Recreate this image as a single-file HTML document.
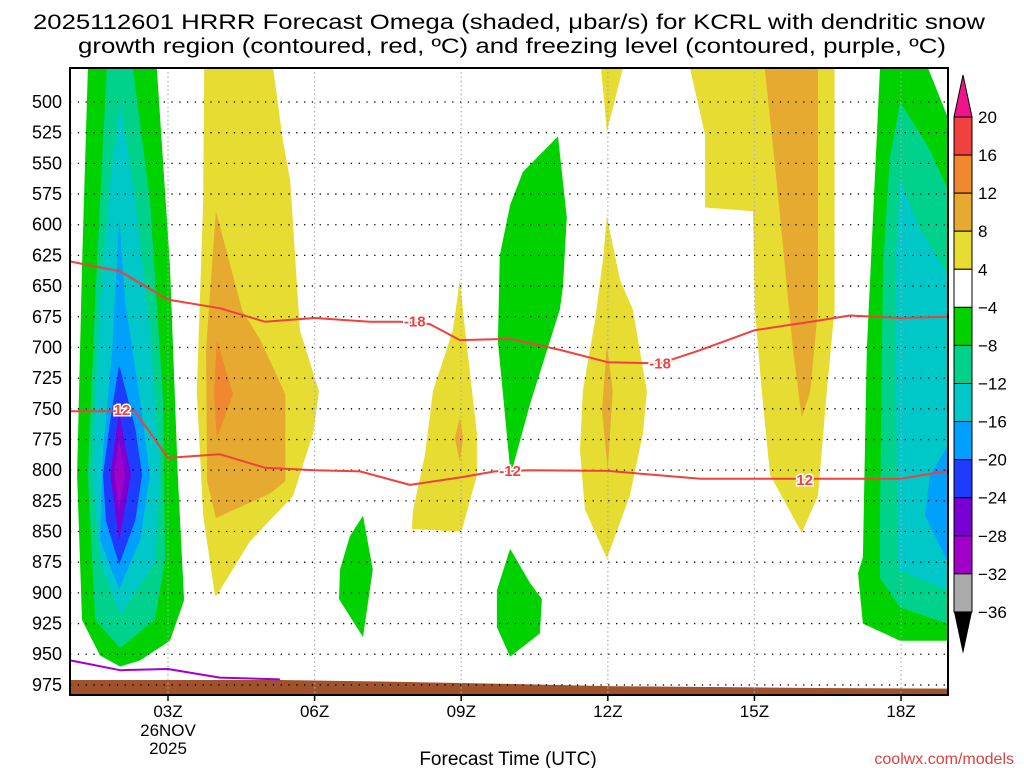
<!DOCTYPE html>
<html><head><meta charset="utf-8"><style>
html,body{margin:0;padding:0;background:#fff;}
svg{display:block;font-family:"Liberation Sans",sans-serif;}
</style></head><body>
<svg id="chart" width="1024" height="768" viewBox="0 0 1024 768" xmlns="http://www.w3.org/2000/svg">
<text x="33" y="29" font-size="21" textLength="952" lengthAdjust="spacingAndGlyphs">2025112601 HRRR Forecast Omega (shaded, μbar/s) for KCRL with dendritic snow</text>
<text x="78" y="53" font-size="21" textLength="868" lengthAdjust="spacingAndGlyphs">growth region (contoured, red, ºC) and freezing level (contoured, purple, ºC)</text>
<g id="plot"></g>
<text x="508" y="765" font-size="19" text-anchor="middle">Forecast Time (UTC)</text>
<text x="1014" y="764" font-size="16" fill="#e04040" text-anchor="end">coolwx.com/models</text>
</svg>
<script>
// ---- data ----
const pressureTicks = [500,525,550,575,600,625,650,675,700,725,750,775,800,825,850,875,900,925,950,975];
const hourTicks = [3,6,9,12,15,18];
const hourLabels = ["03Z","06Z","09Z","12Z","15Z","18Z"];
const colorLevels = [20,16,12,8,4,-4,-8,-12,-16,-20,-24,-28,-32,-36];
const colorFills = ["#f04040","#f08830","#e6aa30","#e6dc32","#ffffff","#00d200","#00d28c","#00c8c8","#00a0ff","#1e3cff","#7800d2","#a000c8","#aaaaaa"];
// shaded omega regions: [[hourUTC, hPa],...]
const shadeGreen = [
 [[1.36,472],[2.77,472],[3.04,634],[3.2,804],[3.33,906],[3.04,939],[2.43,955],[2.02,960],[1.61,951],[1.24,922],[1.14,804],[1.24,634]],
 [[6.99,837],[7.19,881],[6.99,936],[6.5,905],[6.52,881],[6.72,854]],
 [[10.98,528],[11.16,594],[11.08,651],[11.02,669],[10.41,746],[10.06,797],[10.0,799],[9.75,695],[9.79,625],[10.0,584],[10.26,557]],
 [[10.0,864],[10.41,892],[10.65,905],[10.61,933],[10.0,952],[9.73,928],[9.73,898]],
 [[17.57,472],[18.55,472],[18.96,513],[18.96,939],[17.98,939],[17.22,925],[17.12,884],[17.22,871],[17.3,702]]
];
const shadeTeal = [
 [[1.75,472],[2.28,472],[2.63,580],[2.9,743],[2.94,873],[2.73,922],[2.02,945],[1.51,922],[1.36,804],[1.51,661]],
 [[17.98,500],[18.59,539],[18.96,572],[18.96,925],[17.98,912],[17.57,888],[17.57,837],[17.63,634],[17.77,547]]
];
const shadeCyan = [
 [[2.02,499],[2.33,580],[2.63,686],[2.84,801],[2.74,875],[2.02,918],[1.61,875],[1.45,801],[1.61,662],[1.82,564]],
 [[17.98,563],[18.39,604],[18.96,641],[18.96,898],[17.94,881],[17.92,837],[17.88,634]]
];
const shadeLightBlue = [
 [[2.0,595],[2.12,662],[2.43,743],[2.63,804],[2.43,857],[2.0,897],[1.61,857],[1.67,784],[1.86,702]],
 [[18.96,780],[18.59,804],[18.49,837],[18.96,875]]
];
const shadeBlue = [[[2.0,714],[2.33,766],[2.47,804],[2.33,841],[2.0,877],[1.73,841],[1.67,804],[1.82,759]]];
const shadeViolet = [[[2.0,753],[2.24,804],[2.0,858],[1.82,804]]];
const shadePurple = [[[2.0,775],[2.12,804],[2.0,832],[1.9,804]]];
const shadeYellow = [
 [[3.74,472],[5.15,472],[5.35,531],[5.5,564],[5.7,686],[6.09,736],[5.97,770],[5.56,821],[4.68,858],[4.0,902],[3.96,902],[3.72,837],[3.59,736],[3.72,581]],
 [[8.97,645],[9.08,686],[9.32,770],[9.32,804],[9.02,848],[8.97,850],[7.99,848],[8.01,834],[8.26,787],[8.42,736],[8.83,686]],
 [[11.86,472],[12.31,472],[11.98,524]],
 [[11.98,593],[12.25,645],[12.51,669],[12.8,736],[12.72,770],[12.45,821],[11.98,872],[11.53,832],[11.43,784],[11.49,735],[11.74,678],[11.9,629]],
 [[13.68,472],[13.99,527],[13.99,586],[14.97,589],[15.01,669],[15.15,736],[15.32,804],[15.97,851],[16.3,821],[16.48,736],[16.64,669],[16.64,472]]
];
const shadeOrangeLight = [
 [[3.98,589],[4.52,670],[4.89,694],[5.4,738],[5.4,809],[5.09,819],[3.98,839],[3.8,809],[3.78,701]],
 [[8.97,757],[9.04,774],[8.97,793],[8.87,774]],
 [[11.98,698],[12.1,735],[12.0,800],[11.88,751]],
 [[15.21,472],[16.3,472],[16.3,669],[16.14,736],[15.97,757],[15.79,702],[15.46,567]]
];
const shadeOrange = [[[4.0,694],[4.33,738],[4.0,774],[3.94,738]]];
const shapeLayers = [
 ["green-region", "#00d200", shadeGreen],
 ["seagreen-region", "#00d28c", shadeTeal],
 ["cyan-region", "#00c8c8", shadeCyan],
 ["lightblue-region", "#00a0ff", shadeLightBlue],
 ["blue-region", "#1e3cff", shadeBlue],
 ["violet-region", "#7800d2", shadeViolet],
 ["purple-region", "#a000c8", shadePurple],
 ["yellow-region", "#e6dc32", shadeYellow],
 ["amber-region", "#e6aa30", shadeOrangeLight],
 ["orange-region", "#f08830", shadeOrange]
];
const iso18 = [[1,630],[2.02,638],[3,661],[4.06,668],[4.98,679],[6,676],[7.13,679],[7.75,679],[8.36,681],[8.97,694],[10,693],[11.02,702],[12,712],[13.07,713],[13.9,702],[15,686],[16.34,678],[16.95,674],[17.98,676],[18.96,675]];
const iso12 = [[1,752],[2.32,752],[3,790],[4.06,787],[4.98,798],[6,800],[6.93,801],[7.95,812],[8.97,806],[9.69,801],[10.4,800],[12,800.6],[13.9,807],[15,807],[16.55,807],[17.98,807],[18.96,800.6]];
const isoLabels = [["-18",8.05,679],["-18",13.07,713],["12",2.06,751],["-12",10.0,800.6],["12",16.03,808]];
const freezing = [[1,955],[2.02,963],[3,962],[4.06,969],[5.29,970.5]];
const terrain = [[1,971],[5.29,971],[7,972],[9.79,974],[12,976],[15,977],[16.3,977.5],[18.96,978]];
// ---- axes ----
const X0=168, HPX=48.87, Y0=102, PPX=30.68/25;
const xS = h => X0+(h-3)*HPX;
const yS = p => Y0+(p-500)*PPX;
const L=70,R=948,T=68,B=695;
const NS="http://www.w3.org/2000/svg";
const svg=document.getElementById('chart');
const plot=document.getElementById('plot');
function mk(tag,attrs,parent){const e=document.createElementNS(NS,tag);for(const k in attrs)e.setAttribute(k,attrs[k]);(parent||plot).appendChild(e);return e;}
const pts = arr => arr.map(d=>xS(d[0]).toFixed(1)+","+yS(d[1]).toFixed(1)).join(" ");
const defs=mk('defs',{},svg);
const cp=mk('clipPath',{id:'clipP'},defs);
mk('rect',{x:L,y:T,width:R-L,height:B-T},cp);
const g=mk('g',{'clip-path':'url(#clipP)'});
for(const [nm,fill,polys] of shapeLayers){
  for(const poly of polys){
    const p=mk('polygon',{points:pts(poly),fill:fill},g);
    
    
  }
}
const terr=mk('polygon',{points:pts(terrain)+" "+xS(18.96)+","+B+" "+xS(1)+","+B,fill:"#a0522d"},g);


for(const p of pressureTicks){
  const l=mk('line',{x1:L,x2:R,y1:yS(p),y2:yS(p),stroke:"#000","stroke-width":1.3,"stroke-dasharray":"1.3,6.5"},g);
  
  
}
for(const h of hourTicks){
  const l=mk('line',{x1:xS(h),x2:xS(h),y1:T,y2:B,stroke:"#aaa","stroke-width":1.3,"stroke-dasharray":"1.3,3"},g);
  
  
}
function line(arr,color,name,w){
  const l=mk('polyline',{points:pts(arr),fill:"none",stroke:color,"stroke-width":w||2,"stroke-linejoin":"round"},g);
  
  
}
line(iso18,"#f04040","dgz-contour-minus18");
line(iso12,"#f04040","dgz-contour-minus12");
line(freezing,"#a000d0","freezing-level-contour");
for(const [t,h,p] of isoLabels){
  const tx=mk('text',{x:xS(h),y:yS(p)+5,"font-size":15,"font-weight":"bold",fill:"#f04040","text-anchor":"middle",stroke:"#fff","stroke-width":3,"paint-order":"stroke"},g);
  tx.textContent=t;
  
  
}
const fr=mk('rect',{x:L,y:T,width:R-L,height:B-T,fill:"none",stroke:"#000","stroke-width":2});


for(const p of pressureTicks){
  const t=mk('text',{x:62,y:yS(p)+6,"font-size":18,"text-anchor":"end"});
  t.textContent=p;
  
  
}
hourTicks.forEach((h,i)=>{
  mk('line',{x1:xS(h),x2:xS(h),y1:B,y2:B+6,stroke:"#000","stroke-width":1.5});
  const t=mk('text',{x:xS(h),y:B+22,"font-size":17,"text-anchor":"middle"});
  t.textContent=hourLabels[i];
  
  
});
const d1=mk('text',{x:xS(3),y:B+41,"font-size":17,"text-anchor":"middle"});d1.textContent="26NOV";


const d2=mk('text',{x:xS(3),y:B+59,"font-size":17,"text-anchor":"middle"});d2.textContent="2025";


const CBX=954,CBW=18,CBT=117,CBH=38.07;
const up=mk('polygon',{points:`${CBX},${CBT} ${CBX+CBW},${CBT} ${CBX+CBW/2},${CBT-42}`,fill:"#f0148c",stroke:"#000","stroke-width":1});


colorFills.forEach((c,i)=>{
  const r=mk('rect',{x:CBX,y:CBT+i*CBH,width:CBW,height:CBH,fill:c,stroke:"#000","stroke-width":1});
  
  
});
const cbB=CBT+colorFills.length*CBH;
const dn=mk('polygon',{points:`${CBX},${cbB} ${CBX+CBW},${cbB} ${CBX+CBW/2},${cbB+42}`,fill:"#000"});


colorLevels.forEach((v,i)=>{
  const t=mk('text',{x:978,y:CBT+i*CBH+6,"font-size":17});
  t.textContent=v<0?"\u2212"+(-v):String(v);
  
  
});
</script>
</body></html>
